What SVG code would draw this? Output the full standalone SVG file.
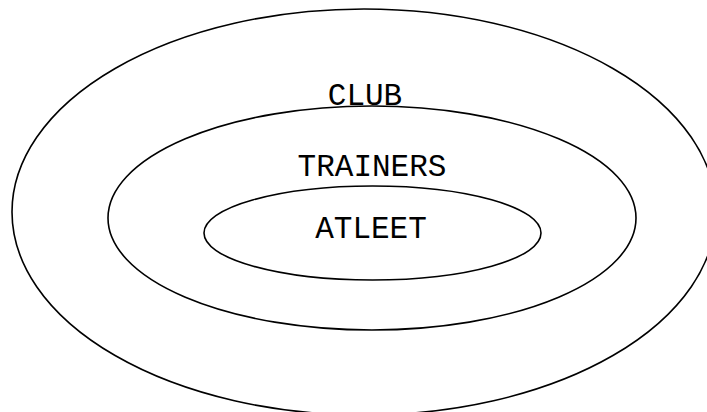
<svg xmlns="http://www.w3.org/2000/svg" width="707" height="412" viewBox="0 0 707 412">
<style>
.e{fill:none;stroke:#000;stroke-width:1.6}
.t{font-family:"Liberation Mono","Courier New",monospace;font-size:31px;fill:#000;text-anchor:middle}
</style>
<rect width="707" height="412" fill="#fff"/>
<g id="club"><ellipse class="e" cx="364" cy="212" rx="352" ry="203"/><text class="t" x="365" y="105">CLUB</text></g>
<g id="trainers"><ellipse class="e" cx="372" cy="218" rx="264" ry="112"/><text class="t" x="372" y="176">TRAINERS</text></g>
<g id="atleet"><ellipse class="e" cx="372.5" cy="233" rx="168.5" ry="47"/><text class="t" x="371" y="238">ATLEET</text></g>
<g id="connectors"/>
</svg>
